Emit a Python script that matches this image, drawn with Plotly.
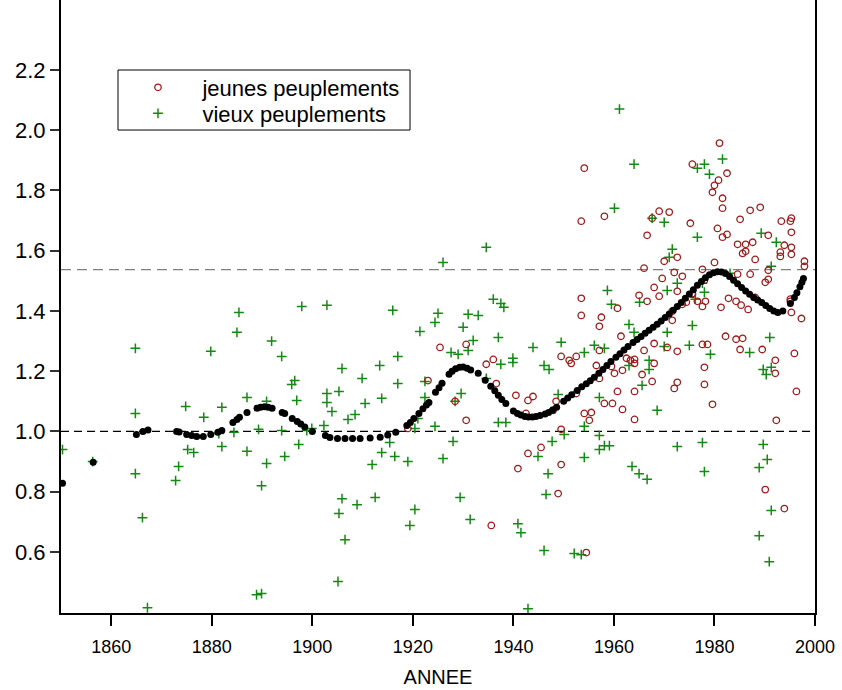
import plotly.graph_objects as go

# ---- data ----
vieux_years = [1850.3, 1856.3, 1864.8, 1864.8, 1864.8, 1866.2, 1867.2, 1872.8, 1873.4, 1874.8,
               1875.2, 1876.4, 1878.4, 1879.8, 1881.4, 1882.0, 1882.0, 1884.4, 1885.0, 1885.4,
               1887.0, 1887.0, 1889.3, 1890.9, 1888.9, 1889.9, 1889.9, 1890.9, 1891.9, 1893.9,
               1893.9, 1894.5, 1895.9, 1896.5, 1896.9, 1897.3, 1897.9, 1898.9, 1902.9, 1916.0,
               1905.9, 1909.9, 1913.4, 1917.0, 1917.0, 1902.9, 1902.9, 1903.9, 1905.3, 1908.5,
               1907.1, 1910.5, 1913.8, 1921.4, 1924.4, 1925.0, 1926.0, 1934.6, 1930.0, 1931.0,
               1933.0, 1936.0, 1937.5, 1938.1, 1932.0, 1931.0, 1927.6, 1929.0, 1937.0, 1939.9,
               1939.9, 1937.5, 1943.9, 1946.1, 1947.1, 1949.5, 1922.4, 1922.4, 1929.6, 1934.6,
               1948.9, 1921.0, 1899.9, 1902.3, 1915.4, 1913.8, 1911.9, 1916.4, 1919.0, 1920.4,
               1924.4, 1926.0, 1928.0, 1905.9, 1905.3, 1908.9, 1912.5, 1906.5, 1905.1, 1920.4,
               1919.4, 1929.4, 1931.4, 1937.0, 1938.5, 1940.9, 1941.5, 1944.9, 1947.7, 1946.9,
               1946.5, 1946.1, 1942.9, 1950.1, 1961.1, 1964.0, 1960.1, 1967.6, 1970.0, 1976.6,
               1971.6, 1971.0, 1958.7, 1972.6, 1970.6, 1978.0, 1976.6, 1979.0, 1977.6, 1978.0,
               1981.6, 1989.3, 1992.3, 1991.3, 1983.1, 1959.5, 1965.1, 1976.2, 1954.1, 1956.1,
               1958.1, 1963.0, 1964.0, 1970.6, 1975.6, 1970.0, 1975.0, 1979.2, 1987.0, 1991.0,
               1967.0, 1967.0, 1963.0, 1965.6, 1957.1, 1968.6, 1954.1, 1957.1, 1957.1, 1958.1,
               1959.1, 1954.1, 1972.6, 1977.6, 1989.7, 1990.5, 1988.9, 1963.6, 1965.0, 1966.6,
               1978.0, 1989.7, 1990.3, 1991.3, 1991.3, 1988.9, 1990.9, 1952.1, 1953.5, 1928.4]
vieux_values = [0.94, 0.90, 1.276, 1.06, 0.86, 0.714, 0.415, 0.837, 0.884, 1.083,
                0.94, 0.93, 1.047, 1.266, 0.993, 1.08, 0.95, 0.997, 1.329, 1.395,
                1.113, 0.934, 1.007, 1.10, 0.458, 0.462, 0.82, 0.894, 1.30, 1.249,
                1.003, 0.917, 1.156, 1.169, 1.103, 0.957, 1.415, 1.003, 1.419, 1.402,
                1.209, 1.176, 1.219, 1.249, 1.159, 1.126, 1.096, 1.066, 1.133, 1.056,
                1.04, 1.093, 1.11, 1.332, 1.362, 1.392, 1.561, 1.611, 1.346, 1.389,
                1.385, 1.439, 1.425, 1.412, 1.302, 1.269, 1.262, 1.256, 1.312, 1.243,
                1.229, 1.223, 1.279, 1.219, 1.206, 1.296, 1.166, 1.113, 1.126, 1.176,
                1.123, 1.043, 1.01, 1.02, 0.963, 0.93, 0.89, 0.917, 0.90, 1.01,
                1.017, 0.91, 0.967, 0.777, 0.728, 0.757, 0.781, 0.641, 0.502, 0.741,
                0.688, 0.781, 0.708, 1.03, 1.03, 0.694, 0.664, 0.917, 0.967, 0.86,
                0.791, 0.605, 0.412, 0.99, 2.07, 1.887, 1.741, 1.708, 1.694, 1.645,
                1.605, 1.578, 1.468, 1.492, 1.468, 1.887, 1.874, 1.854, 1.492, 1.462,
                1.904, 1.658, 1.628, 1.548, 1.525, 1.422, 1.429, 1.439, 1.262, 1.286,
                1.276, 1.355, 1.329, 1.329, 1.352, 1.282, 1.286, 1.256, 1.262, 1.312,
                1.236, 1.206, 1.219, 1.153, 1.113, 1.07, 1.017, 0.987, 0.94, 0.953,
                0.953, 0.914, 0.95, 0.963, 0.957, 0.907, 0.88, 0.884, 0.86, 0.841,
                0.867, 1.206, 1.189, 1.213, 0.738, 0.654, 0.568, 0.595, 0.591, 1.10]

jeunes_years = [1925.4, 1930.6, 1934.6, 1936.0, 1923.0, 1928.4, 1936.6, 1940.5, 1942.9, 1943.9,
                1948.5, 1949.5, 1951.1, 1942.5, 1947.9, 1930.6, 1919.0, 1942.9, 1945.5, 1940.9,
                1949.5, 1948.9, 1935.6, 1949.5, 1954.1, 1953.5, 1958.1, 1969.0, 1971.0, 1975.2,
                1966.6, 1972.6, 1970.0, 1966.0, 1972.0, 1973.6, 1969.6, 1975.6, 1981.0, 1980.8,
                1980.0, 1979.6, 1980.6, 1980.0, 1977.6, 1968.0, 1965.0, 1969.0, 1972.6, 1953.5,
                1975.6, 1978.0, 1967.6, 1982.5, 1981.6, 1981.6, 1987.1, 1989.1, 1985.1, 1993.3,
                1995.1, 1995.3, 1982.5, 1981.6, 1990.7, 1995.3, 1984.6, 1986.2, 1987.6, 1986.2,
                1985.6, 1993.9, 1995.3, 1993.1, 1993.1, 1995.3, 1988.1, 1997.9, 1997.9, 1987.1,
                1984.6, 1990.7, 1990.7, 1990.1, 1982.8, 1988.1, 1995.1, 1953.5, 1957.5, 1957.1,
                1960.7, 1966.6, 1975.6, 1973.6, 1974.4, 1976.6, 1978.2, 1977.6, 1981.3, 1984.3,
                1985.3, 1986.7, 1995.1, 1995.3, 1997.3, 1971.6, 1971.6, 1961.4, 1957.1, 1951.5,
                1952.5, 1956.5, 1957.1, 1959.5, 1960.1, 1961.7, 1962.5, 1963.3, 1964.1, 1964.1,
                1965.6, 1966.0, 1968.0, 1968.0, 1967.6, 1964.1, 1960.7, 1958.1, 1959.7, 1961.7,
                1955.5, 1954.1, 1955.1, 1964.1, 1952.5, 1970.6, 1972.6, 1972.6, 1972.0, 1977.6,
                1978.6, 1978.0, 1978.0, 1979.6, 1982.2, 1984.3, 1985.6, 1985.1, 1989.5, 1992.1,
                1992.1, 1995.9, 1996.3, 1992.3, 1990.1, 1993.9, 1954.5]
jeunes_values = [1.279, 1.289, 1.223, 1.239, 1.169, 1.10, 1.159, 1.12, 1.103, 1.116,
                 1.10, 1.249, 1.236, 1.06, 1.07, 1.037, 1.01, 0.927, 0.947, 0.877,
                 0.89, 0.794, 0.688, 1.007, 1.874, 1.698, 1.714, 1.731, 1.728, 1.691,
                 1.651, 1.578, 1.565, 1.542, 1.528, 1.515, 1.508, 1.887, 1.957, 1.834,
                 1.817, 1.794, 1.674, 1.561, 1.538, 1.478, 1.452, 1.449, 1.465, 1.442,
                 1.458, 1.502, 1.708, 1.857, 1.774, 1.741, 1.734, 1.744, 1.704, 1.698,
                 1.698, 1.708, 1.654, 1.645, 1.651, 1.661, 1.621, 1.621, 1.628, 1.598,
                 1.591, 1.618, 1.611, 1.595, 1.581, 1.588, 1.571, 1.565, 1.548, 1.522,
                 1.522, 1.535, 1.505, 1.495, 1.442, 1.445, 1.439, 1.385, 1.379, 1.349,
                 1.409, 1.432, 1.455, 1.422, 1.429, 1.432, 1.432, 1.415, 1.412, 1.432,
                 1.419, 1.405, 1.432, 1.395, 1.375, 1.399, 1.369, 1.316, 1.269, 1.226,
                 1.249, 1.219, 1.176, 1.216, 1.193, 1.203, 1.243, 1.236, 1.239, 1.226,
                 1.189, 1.269, 1.292, 1.226, 1.166, 1.133, 1.133, 1.093, 1.093, 1.073,
                 1.063, 1.06, 1.037, 1.04, 1.126, 1.279, 1.266, 1.163, 1.143, 1.289,
                 1.289, 1.213, 1.156, 1.09, 1.316, 1.306, 1.309, 1.272, 1.272, 1.236,
                 1.193, 1.259, 1.133, 1.037, 0.807, 0.744, 0.598]

smooth_years = [1850.3, 1856.4, 1865.0, 1866.3, 1867.3, 1873.0, 1873.5, 1875.0, 1876.0, 1877.0,
                1878.3, 1879.8, 1881.2, 1882.0, 1884.2, 1885.0, 1885.5, 1887.0, 1889.0, 1889.7,
                1890.5, 1891.2, 1892.0, 1894.0, 1894.5, 1896.0, 1897.0, 1897.7, 1898.5, 1900.0,
                1902.6, 1903.5, 1905.0, 1906.5, 1908.0, 1909.5, 1911.5, 1913.5, 1915.0, 1916.6,
                1918.8, 1919.5, 1920.2, 1921.2, 1922.0, 1922.7, 1923.2, 1924.5, 1925.2, 1925.8,
                1927.2, 1927.8, 1928.5, 1929.3, 1930.0, 1930.8, 1931.5, 1933.0, 1934.4, 1935.5,
                1936.3, 1937.0, 1937.7, 1938.5, 1940.0, 1940.8, 1941.5, 1942.3, 1943.0, 1943.8,
                1944.5, 1945.3, 1946.3, 1947.0, 1947.8, 1948.6, 1950.0, 1950.8, 1951.6, 1952.7,
                1953.6, 1954.5, 1955.3, 1956.1, 1957.0, 1957.8, 1958.6, 1959.4, 1960.4, 1961.2,
                1962.0, 1962.8, 1963.8, 1964.6, 1965.4, 1966.2, 1967.0, 1967.8, 1968.6, 1969.4,
                1970.2, 1971.0, 1971.8, 1972.6, 1973.4, 1974.2, 1975.0, 1975.8, 1976.6, 1977.4,
                1978.2, 1979.0, 1979.8, 1980.6, 1981.4, 1982.2, 1983.0, 1983.8, 1984.6, 1985.4,
                1986.2, 1987.0, 1987.8, 1988.6, 1989.4, 1990.2, 1991.0, 1991.8, 1992.6, 1993.6,
                1995.1, 1995.9, 1996.4, 1997.0, 1997.4, 1997.7]
smooth_values = [0.828, 0.898, 0.99, 1.0, 1.005, 1.0, 0.998, 0.99, 0.987, 0.983,
                 0.983, 0.99, 0.997, 1.003, 1.03, 1.04, 1.047, 1.063, 1.077, 1.08,
                 1.082, 1.08, 1.077, 1.063, 1.06, 1.043, 1.033, 1.025, 1.015, 1.0,
                 0.987, 0.98, 0.977, 0.977, 0.977, 0.977, 0.978, 0.981, 0.988, 0.997,
                 1.02, 1.03, 1.043, 1.06, 1.075, 1.088, 1.096, 1.13, 1.145, 1.16,
                 1.19, 1.2, 1.208, 1.213, 1.214, 1.21, 1.204, 1.193, 1.17, 1.15,
                 1.135, 1.12, 1.106, 1.093, 1.068, 1.06, 1.055, 1.05, 1.048, 1.048,
                 1.05, 1.053, 1.058, 1.063, 1.071, 1.08, 1.1, 1.111, 1.122, 1.136,
                 1.148, 1.158, 1.168, 1.18, 1.193, 1.206, 1.219, 1.232, 1.246, 1.258,
                 1.27, 1.282, 1.295, 1.305, 1.315, 1.326, 1.336, 1.346, 1.356, 1.367,
                 1.378, 1.39, 1.402, 1.415, 1.428, 1.442, 1.456, 1.47, 1.485, 1.498,
                 1.51, 1.52, 1.527, 1.53, 1.529, 1.524, 1.514, 1.502, 1.49, 1.478,
                 1.466, 1.455, 1.445, 1.436, 1.428, 1.418, 1.408, 1.4, 1.395, 1.4,
                 1.425, 1.445, 1.46, 1.48, 1.495, 1.508]

x_ticks = [1860, 1880, 1900, 1920, 1940, 1960, 1980, 2000]
y_ticks = [0.6, 0.8, 1.0, 1.2, 1.4, 1.6, 1.8, 2.0, 2.2]
ref_level = 1.0
mean_level = 1.537

FONT = "Liberation Sans, Arial, sans-serif"
PAD = "\u00a0" * 4

fig = go.Figure()
fig.add_trace(go.Scatter(
    x=vieux_years, y=vieux_values, mode="markers", name=PAD + "vieux peuplements",
    legend="legend2",
    marker=dict(symbol="cross-thin-open", size=7, color="#138a13",
                line=dict(width=1.5, color="#138a13"))))
fig.add_trace(go.Scatter(
    x=jeunes_years, y=jeunes_values, mode="markers", name=PAD + "jeunes peuplements",
    legend="legend",
    marker=dict(symbol="circle-open", size=6.5, color="#9e1b1b",
                line=dict(width=1.3, color="#9e1b1b"))))
fig.add_trace(go.Scatter(
    x=smooth_years, y=smooth_values, mode="markers", showlegend=False,
    marker=dict(symbol="circle", size=7, color="black")))

fig.add_shape(type="line", xref="paper", x0=0, x1=1, yref="y", y0=ref_level, y1=ref_level,
              line=dict(color="black", width=1.2, dash="8px,5px"), layer="below")
fig.add_shape(type="line", xref="paper", x0=0, x1=1, yref="y", y0=mean_level, y1=mean_level,
              line=dict(color="#808080", width=1.2, dash="10px,6px"), layer="below")
# legend frame
fig.add_shape(type="rect", xref="paper", yref="paper", x0=0.0756, x1=0.4629, y0=0.7879, y1=0.8858,
              line=dict(color="black", width=1), fillcolor="rgba(0,0,0,0)")

leg_common = dict(xanchor="left", yanchor="top", borderwidth=0, bgcolor="rgba(0,0,0,0)",
                  font=dict(size=22, family=FONT, color="black"))

fig.update_layout(
    width=842, height=690,
    margin=dict(l=61, r=27, t=0, b=77, autoexpand=False),
    paper_bgcolor="white", plot_bgcolor="white",
    font=dict(family=FONT, color="black", size=17),
    showlegend=True,
    legend=dict(x=0.1021, y=0.8915, **leg_common),
    legend2=dict(x=0.1021, y=0.849, **leg_common),
    xaxis=dict(range=[1850, 2000], tickvals=x_ticks, ticks="outside", ticklen=11,
               tickwidth=1.5, tickcolor="black", showline=True, linewidth=2, linecolor="black",
               showgrid=False, zeroline=False, mirror=False, automargin=False,
               ticklabelstandoff=5,
               tickfont=dict(size=18), title=dict(text="ANNEE", font=dict(size=20), standoff=14)),
    yaxis=dict(range=[0.3975, 2.432], tickvals=y_ticks, tickformat=".1f", ticks="outside",
               ticklen=9, tickwidth=1.5, tickcolor="#333", showline=True, linewidth=2,
               linecolor="black", showgrid=False, zeroline=False, mirror=True, automargin=False,
               tickfont=dict(size=22)),
)

fig.write_html("out.html", config={"displayModeBar": False},
               post_script="document.body.style.margin='0px';")
